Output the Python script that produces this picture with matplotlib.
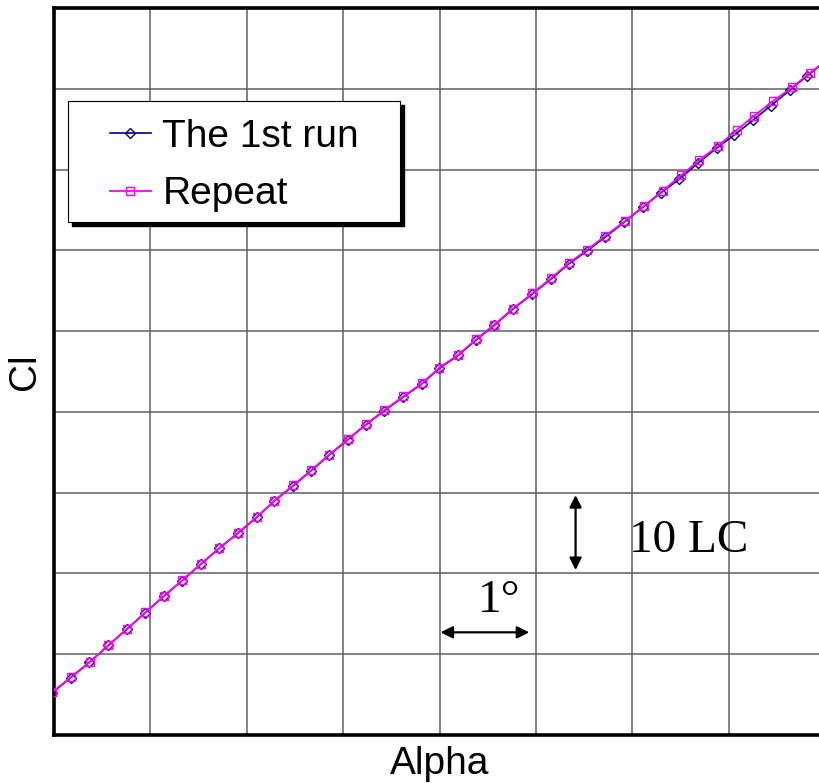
import matplotlib.pyplot as plt #modulo para graficar
import matplotlib.patches as patches
import numpy as np

#Datos: angulo (grados) y Cl (en LC)
alpha1 = [-0.018, 0.173, 0.368, 0.563, 0.754, 0.947, 1.141, 1.328, 1.525, 1.715,
          1.906, 2.103, 2.285, 2.482, 2.663, 2.856, 3.047, 3.233, 3.426, 3.623,
          3.814, 3.997, 4.194, 4.378, 4.568, 4.758, 4.962, 5.153, 5.339, 5.526,
          5.716, 5.913, 6.107, 6.297, 6.484, 6.678, 6.875, 7.057, 7.253, 7.438,
          7.635, 7.816, 8.008]
cl1 = [5.24, 7.09, 9.00, 11.08, 13.08, 15.14, 17.20, 19.10, 21.16, 23.11,
       24.96, 26.94, 28.96, 30.85, 32.67, 34.65, 36.55, 38.37, 40.14, 41.83,
       43.44, 45.38, 46.99, 48.89, 50.71, 52.69, 54.58, 56.40, 58.29, 59.90,
       61.60, 63.45, 65.31, 67.12, 68.77, 70.75, 72.65, 74.26, 76.11, 77.91,
       79.83, 81.62, 83.42]

alpha2 = [-0.016, 0.175, 0.370, 0.565, 0.756, 0.949, 1.143, 1.330, 1.527, 1.717,
          1.908, 2.105, 2.287, 2.484, 2.665, 2.858, 3.049, 3.235, 3.428, 3.625,
          3.816, 3.999, 4.196, 4.380, 4.570, 4.760, 4.964, 5.155, 5.341, 5.530,
          5.720, 5.924, 6.123, 6.314, 6.511, 6.694, 6.891, 7.082, 7.265, 7.462,
          7.659, 7.842, 8.034]
cl2 = [5.30, 7.15, 9.05, 11.12, 13.12, 15.18, 17.25, 19.15, 21.20, 23.16,
       25.02, 27.00, 29.02, 30.92, 32.75, 34.72, 36.62, 38.45, 40.22, 41.92,
       43.52, 45.48, 47.08, 48.98, 50.80, 52.78, 54.68, 56.52, 58.42, 60.05,
       61.80, 63.61, 65.51, 67.36, 69.31, 71.16, 72.93, 74.88, 76.65, 78.50,
       80.16, 81.97, 83.66]

leyendas = ['The 1st run', 'Repeat']

fig = plt.figure(figsize=(8.19, 7.83), dpi=100)
ax = fig.add_axes([54/819, 48/783, 771/819, 727/783])

ax.plot(alpha1, cl1, color='#000080', lw=1.2, marker='D', ms=5,
        mfc='none', mec='#000080', mew=1.0, label=leyendas[0], zorder=3)
ax.plot(alpha2, cl2, color='#ff00ff', lw=1.3, marker='s', ms=6,
        mfc='none', mec='#ff00ff', mew=1.0, label=leyendas[1], zorder=4)

ax.set_xlim(0, 8)
ax.set_ylim(0, 90)
ax.set_xticks(np.arange(0, 9, 1))
ax.set_yticks(np.arange(0, 91, 10))
ax.tick_params(length=0, labelbottom=False, labelleft=False)
ax.grid(color='#606060', lw=1.1)
ax.set_axisbelow(True)
for s in ['left', 'top', 'bottom']:
    ax.spines[s].set_linewidth(2.6)
ax.spines['right'].set_visible(False)

ax.set_xlabel('Alpha', family='Liberation Sans', fontsize=28, labelpad=8)
ax.set_ylabel('Cl', family='Liberation Sans', fontsize=28, labelpad=8)

#Cuadro de leyenda con sombra
x0, y0, w, h = 0.0182, 0.7056, 0.4306, 0.1664
ax.add_patch(patches.Rectangle((x0 + 0.005, y0 - 0.0055), w, h, transform=ax.transAxes,
                               facecolor='black', edgecolor='black', zorder=5))
ax.add_patch(patches.Rectangle((x0, y0), w, h, transform=ax.transAxes,
                               facecolor='white', edgecolor='black', lw=0.8, zorder=6))
leg = ax.legend(loc='upper left', bbox_to_anchor=(0.0726, 0.848), frameon=False,
                borderpad=0, borderaxespad=0, handlelength=1.05, handletextpad=0.3,
                labelspacing=0.56, numpoints=1, prop={'family': 'Liberation Sans', 'size': 28})
leg.set_zorder(7)

#Flechas de escala
ax.annotate('', xy=(5.412, 29.70), xytext=(5.412, 20.42),
            arrowprops=dict(arrowstyle='<|-|>', color='black', lw=1.6,
                            mutation_scale=18, shrinkA=0, shrinkB=0))
ax.annotate('', xy=(4.011, 12.71), xytext=(4.931, 12.71),
            arrowprops=dict(arrowstyle='<|-|>', color='black', lw=1.6,
                            mutation_scale=18, shrinkA=0, shrinkB=0))
ax.text(5.965, 22.65, '10 LC', family='Liberation Serif', fontsize=34, va='baseline')
ax.text(4.398, 15.22, '1°', family='Liberation Serif', fontsize=34, va='baseline')

fig.savefig('out.png', dpi=100)
